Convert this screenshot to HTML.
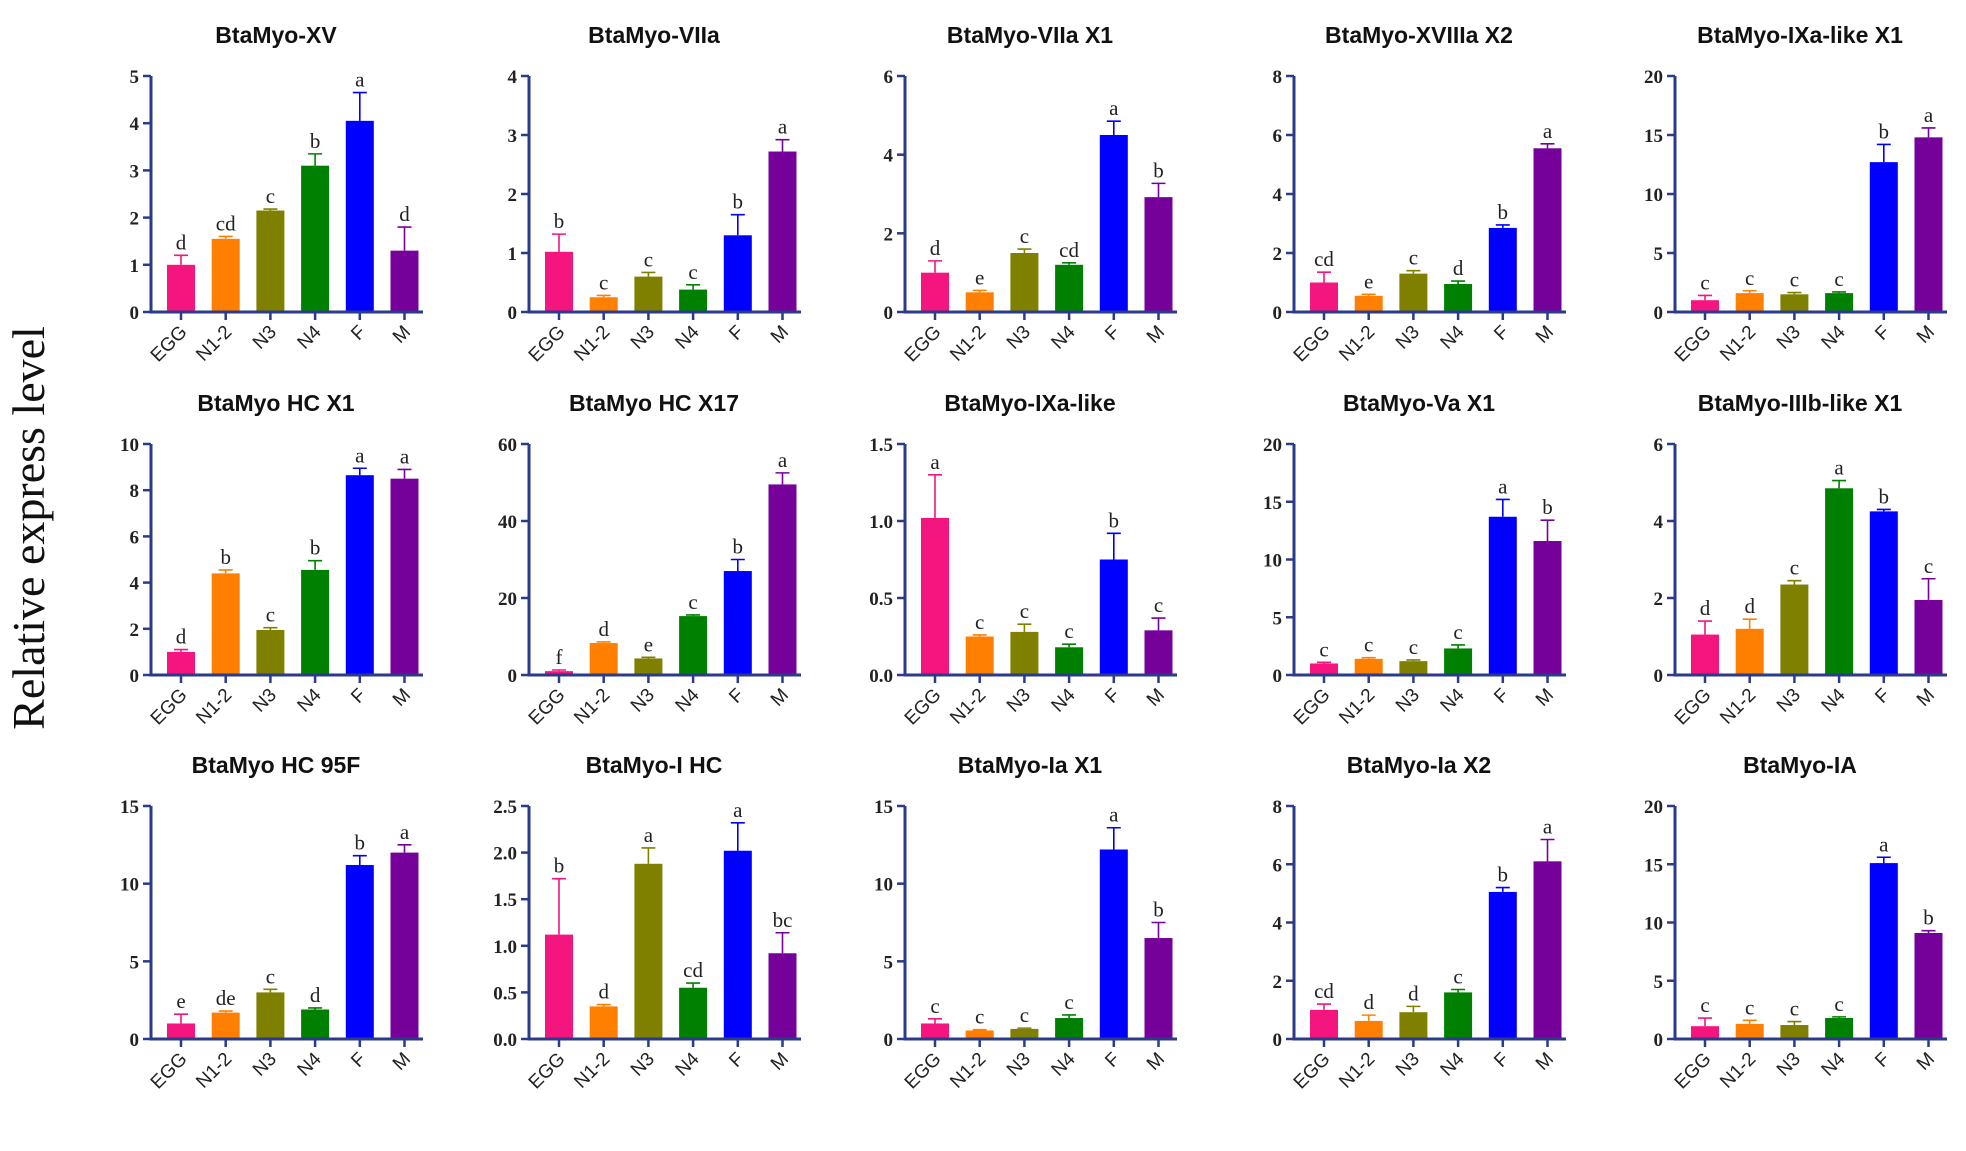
<!DOCTYPE html>
<html><head><meta charset="utf-8"><style>
html,body{margin:0;padding:0;background:#fff;}
svg{display:block;}
</style></head><body>
<svg id="fig" width="1966" height="1151" viewBox="0 0 1966 1151" xmlns="http://www.w3.org/2000/svg">
<text x="44" y="528" transform="rotate(-90 44 528)" text-anchor="middle" font-family="Liberation Serif, serif" font-size="46" fill="#111">Relative express level</text>
</svg>
<script>
const categories = ["EGG","N1-2","N3","N4","F","M"];
const titles = ["BtaMyo-XV","BtaMyo-VIIa","BtaMyo-VIIa X1","BtaMyo-XVIIIa X2","BtaMyo-IXa-like X1","BtaMyo HC X1","BtaMyo HC X17","BtaMyo-IXa-like","BtaMyo-Va X1","BtaMyo-IIIb-like X1","BtaMyo HC 95F","BtaMyo-I HC","BtaMyo-Ia X1","BtaMyo-Ia X2","BtaMyo-IA"];
const values = [
[1.0,1.55,2.15,3.1,4.05,1.3],
[1.02,0.25,0.6,0.38,1.3,2.72],
[1.0,0.5,1.5,1.2,4.5,2.92],
[1.0,0.55,1.3,0.95,2.85,5.55],
[1.0,1.6,1.5,1.6,12.7,14.8],
[1.0,4.4,1.95,4.55,8.65,8.5],
[1.0,8.3,4.3,15.3,27,49.5],
[1.02,0.25,0.28,0.18,0.75,0.29],
[1.0,1.4,1.2,2.3,13.7,11.6],
[1.05,1.2,2.35,4.85,4.25,1.95],
[1.0,1.7,3.0,1.9,11.2,12.0],
[1.12,0.35,1.88,0.55,2.02,0.92],
[1.0,0.55,0.65,1.35,12.2,6.5],
[1.0,0.62,0.92,1.6,5.05,6.1],
[1.1,1.3,1.2,1.8,15.1,9.1]];
const errors = [
[0.2,0.05,0.03,0.25,0.6,0.5],
[0.3,0.03,0.07,0.08,0.35,0.2],
[0.3,0.05,0.1,0.05,0.35,0.35],
[0.35,0.05,0.1,0.1,0.1,0.15],
[0.4,0.2,0.15,0.1,1.5,0.8],
[0.1,0.15,0.1,0.4,0.3,0.4],
[0.3,0.3,0.3,0.3,3,3],
[0.28,0.01,0.05,0.02,0.17,0.08],
[0.1,0.1,0.1,0.3,1.5,1.8],
[0.35,0.25,0.1,0.2,0.05,0.55],
[0.6,0.1,0.2,0.1,0.6,0.5],
[0.6,0.02,0.17,0.05,0.3,0.22],
[0.3,0.05,0.05,0.2,1.4,1.0],
[0.2,0.2,0.2,0.1,0.15,0.75],
[0.7,0.3,0.3,0.1,0.5,0.2]];
const letters = [
["d","cd","c","b","a","d"],["b","c","c","c","b","a"],["d","e","c","cd","a","b"],["cd","e","c","d","b","a"],["c","c","c","c","b","a"],
["d","b","c","b","a","a"],["f","d","e","c","b","a"],["a","c","c","c","b","c"],["c","c","c","c","a","b"],["d","d","c","a","b","c"],
["e","de","c","d","b","a"],["b","d","a","cd","a","bc"],["c","c","c","c","a","b"],["cd","d","d","c","b","a"],["c","c","c","c","a","b"]];
const axisMax = [5,4,6,8,20,10,60,1.5,20,6,15,2.5,15,8,20];
const tickStep = [1,1,2,2,5,2,20,0.5,5,2,5,0.5,5,2,5];
const tickDecimals = [0,0,0,0,0,0,0,1,0,0,0,1,0,0,0];

const colors = ["#f5157f","#ff8000","#808000","#008000","#0000ff","#75009a"];
const colX = [151,529,905,1294,1675];
const rowTop = [76,444,806];
const rowZero = [312,675,1039];
const axisCol = "#2b3a8a";
const NS = "http://www.w3.org/2000/svg";
const svg = document.getElementById("fig");
function mk(tag, attrs, parent){const e=document.createElementNS(NS,tag);for(const k in attrs)e.setAttribute(k,attrs[k]);(parent||svg).appendChild(e);return e;}

for(let p=0;p<15;p++){
  const r=Math.floor(p/5), c=p%5;
  const x0=colX[c], top=rowTop[r], zero=rowZero[r];
  const g=mk("g",{});
  
  
  const yScale=v=>zero-(v/axisMax[p])*(zero-top);
  const xC=i=>x0+30+i*44.7;
  const t=mk("text",{x:x0+125,y:top-33,"text-anchor":"middle","font-family":"Liberation Sans, sans-serif","font-weight":"bold","font-size":"23",fill:"#111"},g);
  t.textContent=titles[p];
  
  
  for(let i=0;i<6;i++){
    const v=values[p][i], e=errors[p][i], cx=xC(i);
    const b=mk("rect",{x:cx-14,y:yScale(v),width:28,height:zero-yScale(v),fill:colors[i]},g);
    
    
    const ye=yScale(v+e);
    const eb=mk("path",{d:`M${cx} ${yScale(v)}V${ye}M${cx-7} ${ye}H${cx+7}`,stroke:colors[i],"stroke-width":"1.6",fill:"none"},g);
    
    
    const lt=mk("text",{x:cx,y:ye-6,"text-anchor":"middle","font-family":"Liberation Serif, serif","font-size":"21",fill:"#222"},g);
    lt.textContent=letters[p][i];
    
    
    const tk=mk("line",{x1:cx,x2:cx,y1:zero,y2:zero+8,stroke:axisCol,"stroke-width":"2.5"},g);
    
    
    const xl=mk("text",{x:cx+7,y:zero+21,"text-anchor":"end","font-family":"Liberation Sans, sans-serif","font-size":"19",fill:"#222",transform:`rotate(-45 ${cx+7} ${zero+21})`},g);
    xl.textContent=categories[i];
    
    
  }
  const ya=mk("line",{x1:x0,x2:x0,y1:top,y2:zero+1.5,stroke:axisCol,"stroke-width":"3"},g);
  
  
  const xa=mk("line",{x1:x0-1.5,x2:x0+272,y1:zero,y2:zero,stroke:axisCol,"stroke-width":"3"},g);
  
  
  const n=Math.round(axisMax[p]/tickStep[p]);
  for(let k=0;k<=n;k++){
    const v=k*tickStep[p], y=yScale(v);
    const tk=mk("line",{x1:x0-8,x2:x0,y1:y,y2:y,stroke:axisCol,"stroke-width":"2.5"},g);
    
    
    const tl=mk("text",{x:x0-12,y:y+7,"text-anchor":"end","font-family":"Liberation Serif, serif","font-weight":"bold","font-size":"19",fill:"#222"},g);
    tl.textContent=v.toFixed(tickDecimals[p]);
    
    
  }
}
</script>
</body></html>
